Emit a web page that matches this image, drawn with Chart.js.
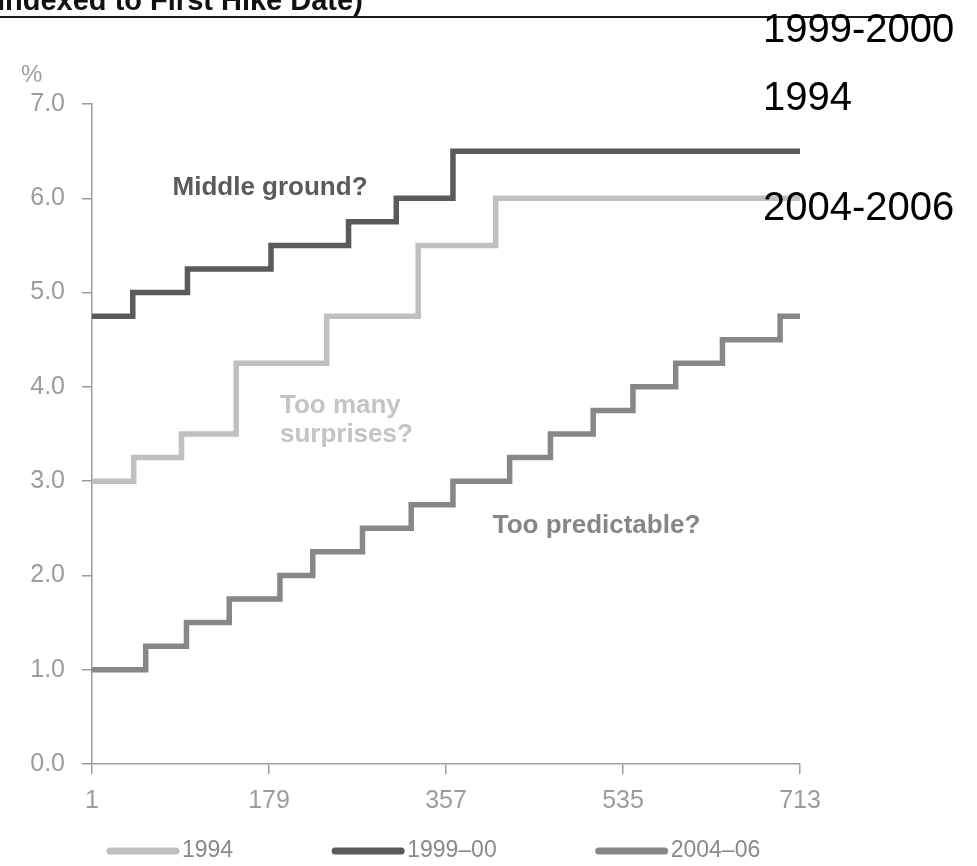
<!DOCTYPE html>
<html>
<head>
<meta charset="utf-8">
<script src="https://cdn.jsdelivr.net/npm/chart.js@4/dist/chart.umd.min.js"></script>
<style>
  html, body { margin: 0; padding: 0; background: #ffffff; }
  canvas { display: block; }
</style>
</head>
<body>
<canvas id="chart" width="977" height="866"></canvas>
<script>
// Policy-rate paths, days counted from the first hike of each cycle
const seriesNames = ['1994', '1999–00', '2004–06'];

const days1994 = [1, 43, 91, 146, 237, 329, 407, 713];
const rate1994 = [3.0, 3.25, 3.5, 4.25, 4.75, 5.5, 6.0, 6.0];

const days1999 = [1, 42, 97, 181, 259, 307, 364, 713];
const rate1999 = [4.75, 5.0, 5.25, 5.5, 5.75, 6.0, 6.5, 6.5];

const days2004 = [1, 55, 96, 139, 190, 223, 273, 322, 364, 421, 462, 505, 545, 588, 635, 693, 713];
const rate2004 = [1.0, 1.25, 1.5, 1.75, 2.0, 2.25, 2.5, 2.75, 3.0, 3.25, 3.5, 3.75, 4.0, 4.25, 4.5, 4.75, 4.75];

const xTicks = [1, 179, 357, 535, 713];
const yTicks = [0, 1, 2, 3, 4, 5, 6, 7];

// Cycle names printed at the top right
const cycleLabels = ['1999-2000', '1994', '2004-2006'];
const headerText = 'Indexed to First Hike Date)';

// Commentary placed in data units (day, rate level of the first line's baseline)
const notes = [
  { lines: ['Middle ground?'], day: 82, level: 6.03, color: '#5a5a5a' },
  { lines: ['Too many', 'surprises?'], day: 190, level: 3.72, color: '#c4c4c4' },
  { lines: ['Too predictable?'], day: 404, level: 2.45, color: '#868686' }
];

const SANS = '"Liberation Sans", Arial, Helvetica, sans-serif';
const AXIS_GREY = '#9c9c9c';

function toPoints(days, rates) {
  return days.map((d, i) => ({ x: d, y: rates[i] }));
}

const palette = ['#c0c0c0', '#5a5a5a', '#878787'];

const datasets = [
  { label: seriesNames[0], data: toPoints(days1994, rate1994) },
  { label: seriesNames[1], data: toPoints(days1999, rate1999) },
  { label: seriesNames[2], data: toPoints(days2004, rate2004) }
].map((ds, i) => Object.assign(ds, {
  borderColor: palette[i],
  backgroundColor: palette[i],
  borderWidth: 5.5,
  stepped: true,
  pointRadius: 0,
  fill: false,
  borderCapStyle: 'round',
  borderJoinStyle: 'miter'
}));

// Header, unit label, commentary and the legend row under the axis
const decor = {
  id: 'decor',
  afterDraw(chart) {
    const ctx = chart.ctx;
    const xs = chart.scales.x, ys = chart.scales.y;
    ctx.save();

    // cut-off header line and rule
    ctx.fillStyle = '#111111';
    ctx.font = 'bold 29px ' + SANS;
    ctx.textAlign = 'left';
    ctx.textBaseline = 'alphabetic';
    ctx.fillText(headerText, -3, 10);
    ctx.strokeStyle = '#1a1a1a';
    ctx.lineWidth = 2;
    ctx.beginPath();
    ctx.moveTo(0, 17);
    ctx.lineTo(950, 17);
    ctx.stroke();

    // cycle names
    ctx.fillStyle = '#000000';
    ctx.font = '40px ' + SANS;
    const baselines = [42, 110, 220];
    cycleLabels.forEach((t, i) => ctx.fillText(t, 763, baselines[i]));

    // unit label
    ctx.fillStyle = AXIS_GREY;
    ctx.font = '24px ' + SANS;
    ctx.fillText('%', 21, 82);

    // commentary
    ctx.font = 'bold 26px ' + SANS;
    notes.forEach(n => {
      ctx.fillStyle = n.color;
      const px = xs.getPixelForValue(n.day);
      const py = ys.getPixelForValue(n.level);
      n.lines.forEach((t, k) => ctx.fillText(t, px, py + k * 29));
    });

    // legend
    ctx.font = '23px ' + SANS;
    ctx.textBaseline = 'middle';
    const swatch = 70, textGap = 2, itemGap = 102, rowY = 851;
    let cx = 110;
    chart.data.datasets.forEach(ds => {
      ctx.strokeStyle = ds.borderColor;
      ctx.lineWidth = 7;
      ctx.lineCap = 'round';
      ctx.beginPath();
      ctx.moveTo(cx, rowY);
      ctx.lineTo(cx + swatch - 4, rowY);
      ctx.stroke();
      ctx.fillStyle = '#8a8a8a';
      ctx.fillText(ds.label, cx + swatch + textGap, rowY);
      cx += swatch + textGap + ctx.measureText(ds.label).width + itemGap;
    });

    ctx.restore();
  }
};

new Chart(document.getElementById('chart'), {
  type: 'line',
  data: { datasets },
  options: {
    responsive: false,
    animation: false,
    devicePixelRatio: 1,
    layout: { padding: { top: 104, left: 0, right: 177, bottom: 0 } },
    plugins: {
      legend: { display: false },
      tooltip: { enabled: false }
    },
    scales: {
      x: {
        type: 'linear',
        min: 1,
        max: 713,
        afterFit(scale) { scale.height = 102; },
        afterBuildTicks(scale) { scale.ticks = xTicks.map(v => ({ value: v })); },
        grid: { drawOnChartArea: false, drawTicks: true, tickLength: 10, color: AXIS_GREY, lineWidth: 1.5 },
        border: { display: true, color: AXIS_GREY, width: 1.5 },
        ticks: {
          padding: 12,
          color: AXIS_GREY,
          font: { family: SANS, size: 25 },
          maxRotation: 0,
          autoSkip: false,
          callback: v => String(v)
        }
      },
      y: {
        min: 0,
        max: 7,
        afterFit(scale) { scale.width = 92; },
        afterBuildTicks(scale) { scale.ticks = yTicks.map(v => ({ value: v })); },
        grid: { drawOnChartArea: false, drawTicks: true, tickLength: 10, color: AXIS_GREY, lineWidth: 1.5 },
        border: { display: true, color: AXIS_GREY, width: 1.5 },
        ticks: {
          padding: 17,
          color: AXIS_GREY,
          font: { family: SANS, size: 25 },
          callback: v => Number(v).toFixed(1)
        }
      }
    }
  },
  plugins: [decor]
});
</script>
</body>
</html>
